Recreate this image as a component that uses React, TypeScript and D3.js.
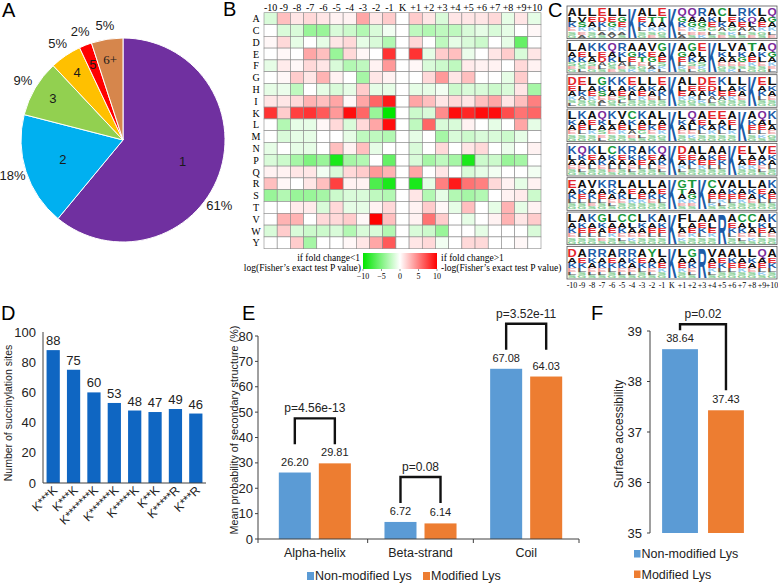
import * as d3 from 'd3';

// ---- data ----
const pieLabels = ['1', '2', '3', '4', '5', '6+'];
const pieShares = [61, 18, 9, 5, 2, 5];
const pieColors = ['#7030a0', '#00b0f0', '#92d050', '#ffc000', '#ff0000', '#d6864c'];

const heatRows = ['A', 'C', 'D', 'E', 'F', 'G', 'H', 'I', 'K', 'L', 'M', 'N', 'P', 'Q', 'R', 'S', 'T', 'V', 'W', 'Y'];
const heatCols = ['-10', '-9', '-8', '-7', '-6', '-5', '-4', '-3', '-2', '-1', 'K', '+1', '+2', '+3', '+4', '+5', '+6', '+7', '+8', '+9', '+10'];
// signed log10 Fisher P value per residue (row) and position (column)
const heatValues: number[][] = [
  [-1.5, 2.5, 1, 1.5, 1, 0.5, 0.5, 3.5, 1, 2, 0, 2, 1, -1.5, 1, 1, 1, 1.5, -1, 1, -1],
  [0, -1.5, -1.5, -4, -4, -1.5, -2, -3, -1.5, -0.5, 0, -2.5, -3, -2.5, -2.5, -1.5, -1, -1.5, -1, 0, 0.3],
  [0.3, 1.5, -1, 0, -1, 1, 1.5, -1, -1.5, -3, 0, 1.5, 0, -2.5, -1, -1.5, -2, 0, -1, -6, 0],
  [0, 0.3, 0, 3.5, 2.5, -4, 1.5, 0.3, 0, 8, 0, 8, -1, 2, 2.5, -0.8, 0, 1, 2, -1.5, 1],
  [-1, 0.8, 0.3, 1.5, 1, -1.5, -3, -2.5, 0.5, 4, 0, 0.3, -1.5, -2, -2.5, 0.8, 0.5, 0.5, 0, 1.5, 0.5],
  [0, 0.3, 2, 1, 3, 0.5, 0, -3.5, 1, 0.5, 0, 0, 1.5, 4, 1, 2.5, 0, 0, -1, 2, 0],
  [-1, -0.8, -2.5, 0, -1, -1.5, -1, 2, -1, -1, 0, -1, -1, -0.5, -2, -1.5, -1.5, -2, -1.5, 1, -3.5],
  [1, 1, 1.5, 3, 2.5, 3.5, 0.3, 3.5, 6, 9, 0, 3.5, 2.5, 1, 1.5, 1, 2.5, 3.5, 1, 2.5, 5],
  [8, 2, 7.5, 8, 6.5, 4, 9.5, 6, -4, -10, 0, -2, -1.5, 4.5, 9.5, 8.5, 9.5, 9.5, 7, 5.5, 6],
  [0, -3, -1, -1, 0.3, 1.5, -1.5, 1.5, 3.5, 9.5, 0, -2.5, 6, -1.5, -1.5, 0.5, 0, -1, 0, 3.5, -1],
  [0, -1.5, -1, -1, 0, 0, -1, -2.5, -2.5, -3, 0, -1, 0, -3.5, -1.5, -2, -1.5, -1.5, -2, -1, 0],
  [-1, 0, -1, -1, 0, 2.5, 0.5, 2.5, -1, 0, 0, -1.5, 0, 1.5, 0, 1, 1.5, 0, -0.8, 0, 0.5],
  [-1.5, -2, -3.5, -5, -4, -9, -3.5, -3, 0, -6, 0, -1.5, -3.5, -2.5, -3.5, -9, -2, -2, -4, -3.5, 0],
  [0.5, 0.5, 1, 1, -0.5, -1.5, 1.5, 2, 4, 3, 0, 3.5, 0, 1, 0, -1.5, -1, -0.5, 0, 0, -0.5],
  [2.5, 0.3, 0, 1, 2.5, 7.5, 0.5, 0.5, -7, -9, 0, -9, -1, 5, 9, 5.5, 5, 1.5, 0.5, -1, 0.5],
  [-4, -3, -4, -4, -3.5, -2, -1.5, -1.5, -2.5, -3, 0, 1, -3, -1, -3, -3.5, -3, 0, 0.5, 0.8, -2],
  [0, 0, 0.8, 0.8, -1.5, 1.5, -1, -1, 0.5, 1.5, 0, 0.5, 2, 0.3, -1, 2.5, 0, -1, 3, -1, 0.5],
  [0, 3, 3, 0, 1.5, 1.5, 2, 0.3, 10, 2.5, 0, 0.5, 5.5, 2, 0, -1, 0, 0.5, 3, 1, 2],
  [-1.5, 2, -1.5, -2, -2, -1.5, -3, -1.5, -1.5, -3, 0, -1.5, -2, -4, 0, 0, -1, 0, 0, 0, -1.5],
  [0, 0, 2, -3.5, 0, 0, 0.3, 1, 3.5, 6.5, 0, 1, 1.5, -0.5, 0, 1.5, 1.5, 0, 0, 0.3, 0],
];
const heatLegendTicks = [-10, -5, 0, 5, 10];

// motif logos: one token per position (-10..+10), letters from top to bottom, '*' = fixed residue
const logoRows = [
  'ALKESG LVSKEA LEAKSG EDKLAS LEGKAV LGEKAS K* AEKLSG LTAKSE ETAKGS K* QGKELA QAGKES RAGSEK AKEGLS CLKASE LEAGKS RKEALS KQLASE LAEKGS QGAKLE',
  'LAKSEG AEKGSL KLASEG KEDALS QAKGSE RKLAES AGELSK AKTEGS VEGLAK GAESKL K* AGELKS GAKSEL ELASKG K* LKAEGS VLAESK AKGESL TAEKSG AKLESG QGAKEL',
  'DEAKSL ELKASG LAEKGS GKSEAL KLAEGS KAESLG EKALSG LAEKSG LKAESG EAKLSG K* ALEKSG LEAKGS DEALKS EDKALS KLEAGS LAEKSG LKAESG K* EAKLSG LKAESG',
  'LKAESG KAELSG AELKSG QKASEL KLAESG VAEKSG CKLAES KAEGLS ALKESG LAEKGS K* LKAESG QALEKS AEKLSG ELAKSG EAKLSG AELKSG K* AKELSG QAELKS KLAEGS',
  'KLAESG QKAELS KEALSG LAKESG CKALES KEALSG RKAELS AKELSG KEALSG QAKELS K* DEAKLS AEKLSG LAEKSG AKELSG AEKLSG K* ELAKSG LAEKSG VAKELS EKALSG',
  'EAKLSG AKELSG VAKLES KAELSG RKAELS LAKESG AELKSG LAEKSG LAKESG AEKLSG K* GTAKES TAGKES K* CAELKS VAEKLS AKELSG LAEKSG LKAESG AEKLSG KAELSG',
  'LAKESG AKELSG KAELSG GKALES LAEKSG CAKELS CLAEKS LKAESG KAELSG AKELSG K* FLAEKS LAEKSG AEKLSG ALEKSG R* AEKLSG CAKELS CLAEKS AKELSG KLAESG',
  'DAKELS AEKLSG RKAELS RAKELS AEKLSG RAKELS RKAELS AEKLSG YAKELS LAEKSG K* LAEKSG GAKELS R* VAEKLS AEKLSG AKELSG LAEKSG LKAESG QAELKS AEKLSG',
];
const logoStackShares = [0.3, 0.2, 0.16, 0.13, 0.11, 0.1];

const motifLabels = ['K***K', 'K***K', 'K*******K', 'K******K', 'K*****K', 'K**K', 'K*****R', 'K***R'];
const motifCounts = [88, 75, 60, 53, 48, 47, 49, 46];
const motifTicks = [0, 20, 40, 60, 80, 100];

const structureNames = ['Alpha-helix', 'Beta-strand', 'Coil'];
const nonModifiedStructure = [26.2, 6.72, 67.08];
const modifiedStructure = [29.81, 6.14, 64.03];
const structurePValues = ['p=4.56e-13', 'p=0.08', 'p=3.52e-11'];
const structureTicks = [0, 10, 20, 30, 40, 50, 60, 70, 80];

const lysGroups = ['Non-modified Lys', 'Modified Lys'];
const lysColors = ['#5b9bd5', '#ed7d31'];
const accessibilityValues = [38.64, 37.43];
const accessibilityP = 'p=0.02';
const accessibilityTicks = [35, 36, 37, 38, 39];

// ---- styles ----
const SANS = 'Arial, "Liberation Sans", Helvetica, sans-serif';
const SERIF = '"Times New Roman", "Liberation Serif", serif';
const AXIS = '#404040';

function PanelLetter({ x, y, t }: { x: number; y: number; t: string }) {
  return (
    <text x={x} y={y} fontFamily={SANS} fontSize={20}>
      {t}
    </text>
  );
}

function PieA() {
  const cx = 123;
  const cy = 140;
  const r = 102;
  const arcs = d3.pie<number>().sort(null).value((d) => d)(pieShares);
  const arc = d3.arc<d3.PieArcDatum<number>>().innerRadius(0).outerRadius(r);
  const at = (a: number, rr: number) => [Math.sin(a) * rr, -Math.cos(a) * rr];
  return (
    <g transform={`translate(${cx},${cy})`} fontFamily={SANS} fontSize={13}>
      {arcs.map((a, i) => (
        <path key={i} d={arc(a) ?? ''} fill={pieColors[i]} stroke="#fff" strokeWidth={1} />
      ))}
      {arcs.map((a, i) => {
        const mid = (a.startAngle + a.endAngle) / 2;
        const big = pieShares[i] > 15;
        const [ix, iy] = at(mid, r * (big ? 0.62 : 0.8));
        // the largest slice's percentage sits a little further round, as in the source
        const [ox, oy] = at(pieShares[i] > 50 ? mid + 0.25 : mid, r * 1.14);
        return (
          <g key={i}>
            <text
              x={ix}
              y={iy}
              textAnchor="middle"
              dominantBaseline="central"
              fontFamily={pieLabels[i] === '6+' ? SERIF : SANS}
              fill="#1a1a1a"
            >
              {pieLabels[i]}
            </text>
            <text x={ox} y={oy} textAnchor="middle" dominantBaseline="central" fill="#1a1a1a">
              {pieShares[i]}%
            </text>
          </g>
        );
      })}
    </g>
  );
}

function HeatmapB() {
  const x = d3.scaleBand().domain(heatCols).range([264, 541]);
  const y = d3.scaleBand().domain(heatRows).range([12.7, 248.7]);
  const color = d3.scaleLinear<string>().domain([-10, 0, 10]).range(['#00e600', '#ffffff', '#ff0000']);
  const bar = d3.scaleLinear().domain([-10, 10]).range([363, 437]);
  return (
    <g fontFamily={SERIF}>
      <defs>
        <linearGradient id="fisherGrad" x1="0" x2="1" y1="0" y2="0">
          {heatLegendTicks.map((t) => (
            <stop key={t} offset={(t + 10) / 20} stopColor={color(t)} />
          ))}
        </linearGradient>
      </defs>
      {heatValues.map((row, ri) =>
        row.map((v, ci) => (
          <rect
            key={`${ri}-${ci}`}
            x={x(heatCols[ci])}
            y={y(heatRows[ri])}
            width={x.bandwidth()}
            height={y.bandwidth()}
            fill={color(v)}
            stroke="#8a8a8a"
            strokeWidth={0.6}
          />
        )),
      )}
      {heatCols.map((c) => (
        <text key={c} x={(x(c) ?? 0) + x.bandwidth() / 2} y={10.5} fontSize={10} textAnchor="middle">
          {c}
        </text>
      ))}
      {heatRows.map((r) => (
        <text key={r} x={256} y={(y(r) ?? 0) + y.bandwidth() / 2 + 3.5} fontSize={10} textAnchor="middle">
          {r}
        </text>
      ))}
      <rect x={bar(-10)} y={253} width={bar(10) - bar(-10)} height={16} fill="url(#fisherGrad)" />
      {heatLegendTicks.map((t) => (
        <g key={t}>
          <line x1={bar(t)} x2={bar(t)} y1={269} y2={271} stroke="#333" strokeWidth={0.5} />
          <text x={bar(t)} y={279} fontSize={8} textAnchor="middle">
            {t < 0 ? `\u2212${-t}` : t}
          </text>
        </g>
      ))}
      <text x={360} y={261} fontSize={9.5} textAnchor="end">
        if fold change&lt;1
      </text>
      <text x={361} y={271} fontSize={9.5} textAnchor="end">
        log(Fisher’s exact test P value)
      </text>
      <text x={441} y={261} fontSize={9.5}>
        if fold change&gt;1
      </text>
      <text x={441} y={271} fontSize={9.5}>
        -log(Fisher’s exact test P value)
      </text>
    </g>
  );
}

const aaColor = (aa: string, faded: boolean) => {
  if ('DE'.includes(aa)) return faded ? '#f09a9a' : '#e3262b';
  if ('KRH'.includes(aa)) return faded ? '#8fc8ee' : '#1d5ca8';
  if ('GSTYC'.includes(aa)) return faded ? '#7ccb8c' : '#18993a';
  if ('NQ'.includes(aa)) return faded ? '#c18bd3' : '#7b2b9b';
  return faded ? '#5a5a5a' : '#111111';
};

function Glyph({ ch, x, y, w, h, fill }: { ch: string; x: number; y: number; w: number; h: number; fill: string }) {
  return (
    <text
      x={x}
      y={y}
      fontFamily={SANS}
      fontWeight="bold"
      fontSize={h / 0.716}
      textLength={w}
      lengthAdjust="spacingAndGlyphs"
      fill={fill}
    >
      {ch}
    </text>
  );
}

function LogosC() {
  const x = d3.scaleBand().domain(heatCols).range([567, 777]);
  const rowY = d3.scaleBand().domain(logoRows.map((_, i) => String(i))).range([6, 279]).paddingInner(0.05);
  const cw = x.bandwidth();
  return (
    <g>
      {logoRows.map((row, ri) => {
        const top = rowY(String(ri)) ?? 0;
        const bh = rowY.bandwidth();
        const inner = bh - 2;
        return (
          <g key={ri}>
            <rect x={567} y={top} width={210} height={bh} fill="#fff" stroke="#555" strokeWidth={0.8} />
            {row.split(' ').map((tok, pi) => {
              const x0 = (x(heatCols[pi]) ?? 0) + 0.4;
              if (tok.endsWith('*')) {
                return <Glyph key={pi} ch={tok[0]} x={x0} y={top + bh - 1} w={cw - 0.8} h={inner} fill="#1d5ca8" />;
              }
              let yb = top + 1;
              return (
                <g key={pi}>
                  {tok.split('').map((ch, li) => {
                    const h = inner * logoStackShares[li];
                    yb += h;
                    return <Glyph key={li} ch={ch} x={x0} y={yb} w={cw - 0.8} h={h * 0.92} fill={aaColor(ch, li >= 3)} />;
                  })}
                </g>
              );
            })}
          </g>
        );
      })}
      {heatCols.map((c) => (
        <text
          key={c}
          x={(x(c) ?? 0) + cw / 2}
          y={288}
          fontFamily={SERIF}
          fontSize={8}
          textAnchor="middle"
        >
          {c}
        </text>
      ))}
    </g>
  );
}

function MotifD() {
  const x = d3.scaleBand().domain(motifLabels.map((_, i) => String(i))).range([43, 206]).paddingInner(0.35).paddingOuter(0.175);
  const y = d3.scaleLinear().domain([0, 100]).range([483, 332]);
  return (
    <g fontFamily={SANS}>
      {motifCounts.map((v, i) => {
        const bx = x(String(i)) ?? 0;
        return (
          <g key={i}>
            <rect x={bx} y={y(v)} width={x.bandwidth()} height={y(0) - y(v)} fill="#0f66c2" />
            <text x={bx + x.bandwidth() / 2} y={y(v) - 5} fontSize={13} textAnchor="middle" fill="#222">
              {v}
            </text>
            <text
              transform={`translate(${bx + x.bandwidth() / 2 + 5},${y(0) + 8}) rotate(-45)`}
              fontSize={12}
              textAnchor="end"
              fill="#222"
            >
              {motifLabels[i]}
            </text>
          </g>
        );
      })}
      <line x1={43} x2={43} y1={y(100)} y2={y(0)} stroke={AXIS} strokeWidth={1} />
      <line x1={43} x2={206} y1={y(0)} y2={y(0)} stroke={AXIS} strokeWidth={1} />
      {motifTicks.map((t) => (
        <text key={t} x={36} y={y(t)} fontSize={13} textAnchor="end" dominantBaseline="central" fill="#222">
          {t}
        </text>
      ))}
      <text transform={`translate(12,413) rotate(-90)`} fontSize={10.5} textAnchor="middle" fill="#222">
        Number of succinylation sites
      </text>
    </g>
  );
}

function Bracket({ x1, x2, yTop, y1, y2, label }: { x1: number; x2: number; yTop: number; y1: number; y2: number; label: string }) {
  return (
    <g>
      <path d={`M${x1},${y1}V${yTop}H${x2}V${y2}`} fill="none" stroke="#111" strokeWidth={2.4} />
      <text x={(x1 + x2) / 2} y={yTop - 6} fontSize={12} textAnchor="middle" fill="#222">
        {label}
      </text>
    </g>
  );
}

function StructureE() {
  const x = d3.scaleBand().domain(structureNames).range([262, 579]);
  const inner = d3.scaleBand().domain(lysGroups).range([0, x.bandwidth()]).paddingInner(0.2).paddingOuter(0.42);
  const y = d3.scaleLinear().domain([0, 80]).range([539, 336]);
  const series = [nonModifiedStructure, modifiedStructure];
  return (
    <g fontFamily={SANS}>
      {structureNames.map((name, ci) => {
        const cx = x(name) ?? 0;
        const centers = lysGroups.map((g) => cx + (inner(g) ?? 0) + inner.bandwidth() / 2);
        const maxV = Math.max(series[0][ci], series[1][ci]);
        const bottom = y(maxV) - 19;
        return (
          <g key={name}>
            {series.map((vals, si) => (
              <g key={si}>
                <rect
                  x={cx + (inner(lysGroups[si]) ?? 0)}
                  y={y(vals[ci])}
                  width={inner.bandwidth()}
                  height={y(0) - y(vals[ci])}
                  fill={lysColors[si]}
                />
                <text x={centers[si]} y={y(vals[ci]) - 7} fontSize={11} textAnchor="middle" fill="#222">
                  {vals[ci].toFixed(2)}
                </text>
              </g>
            ))}
            <Bracket x1={centers[0]} x2={centers[1]} yTop={bottom - 26} y1={bottom} y2={bottom} label={structurePValues[ci]} />
            <text x={cx + x.bandwidth() / 2} y={557} fontSize={12.5} textAnchor="middle" fill="#222">
              {name}
            </text>
          </g>
        );
      })}
      <line x1={258} x2={258} y1={y(80)} y2={y(0)} stroke={AXIS} />
      <line x1={258} x2={579} y1={y(0)} y2={y(0)} stroke={AXIS} />
      {[258, ...structureNames.map((n) => (x(n) ?? 0) + x.bandwidth())].map((tx, i) => (
        <line key={i} x1={tx} x2={tx} y1={y(0)} y2={y(0) + 4} stroke={AXIS} />
      ))}
      {structureTicks.map((t) => (
        <g key={t}>
          <line x1={255} x2={258} y1={y(t)} y2={y(t)} stroke={AXIS} />
          <text x={253} y={y(t)} fontSize={13} textAnchor="end" dominantBaseline="central" fill="#222">
            {t}
          </text>
        </g>
      ))}
      <text transform={`translate(238,430) rotate(-90)`} fontSize={10.8} textAnchor="middle" fill="#222">
        Mean probability of secondary structure (%)
      </text>
      {lysGroups.map((g, i) => (
        <g key={g} transform={`translate(${i === 0 ? 307 : 423},572)`}>
          <rect x={0} y={0} width={7} height={8} fill={lysColors[i]} />
          <text x={8} y={8} fontSize={12.5} fill="#222">
            {g}
          </text>
        </g>
      ))}
    </g>
  );
}

function AccessibilityF() {
  const x = d3.scaleBand().domain(lysGroups).range([652, 754]).paddingInner(0.22).paddingOuter(0.22);
  const y = d3.scaleLinear().domain([35, 39]).range([533, 331]);
  const centers = lysGroups.map((g) => (x(g) ?? 0) + x.bandwidth() / 2);
  const top = y(d3.max(accessibilityValues) ?? 39) - 25;
  return (
    <g fontFamily={SANS}>
      {accessibilityValues.map((v, i) => (
        <g key={i}>
          <rect x={x(lysGroups[i])} y={y(v)} width={x.bandwidth()} height={y(35) - y(v)} fill={lysColors[i]} />
          <text x={centers[i]} y={y(v) - 7} fontSize={11} textAnchor="middle" fill="#222">
            {v.toFixed(2)}
          </text>
        </g>
      ))}
      <Bracket
        x1={centers[0]}
        x2={centers[1]}
        yTop={top}
        y1={y(accessibilityValues[0]) - 19}
        y2={y(accessibilityValues[1]) - 20}
        label={accessibilityP}
      />
      <line x1={650} x2={650} y1={y(39)} y2={y(35)} stroke={AXIS} />
      {accessibilityTicks.map((t) => (
        <g key={t}>
          <line x1={647} x2={650} y1={y(t)} y2={y(t)} stroke={AXIS} />
          <text x={642} y={y(t)} fontSize={13} textAnchor="end" dominantBaseline="central" fill="#222">
            {t}
          </text>
        </g>
      ))}
      <text transform={`translate(623,434) rotate(-90)`} fontSize={12} textAnchor="middle" fill="#222">
        Surface accessibility
      </text>
      {lysGroups.map((g, i) => (
        <g key={g} transform={`translate(634,${550 + i * 20.5})`}>
          <rect x={0} y={0} width={6.5} height={7.5} fill={lysColors[i]} />
          <text x={7.5} y={8} fontSize={12.5} fill="#222">
            {g}
          </text>
        </g>
      ))}
    </g>
  );
}

export default function App() {
  return (
    <div style={{ width: 778, height: 584 }}>
      <style>{`body{margin:0;}`}</style>
      <svg width={778} height={584} viewBox="0 0 778 584" style={{ display: 'block', background: '#fff' }}>
        <rect width={778} height={584} fill="#fff" />
        <PieA />
        <HeatmapB />
        <LogosC />
        <MotifD />
        <StructureE />
        <AccessibilityF />
        <PanelLetter x={2} y={17} t="A" />
        <PanelLetter x={223} y={16} t="B" />
        <PanelLetter x={548} y={17} t="C" />
        <PanelLetter x={1} y={320} t="D" />
        <PanelLetter x={242} y={320} t="E" />
        <PanelLetter x={591} y={320} t="F" />
      </svg>
    </div>
  );
}
